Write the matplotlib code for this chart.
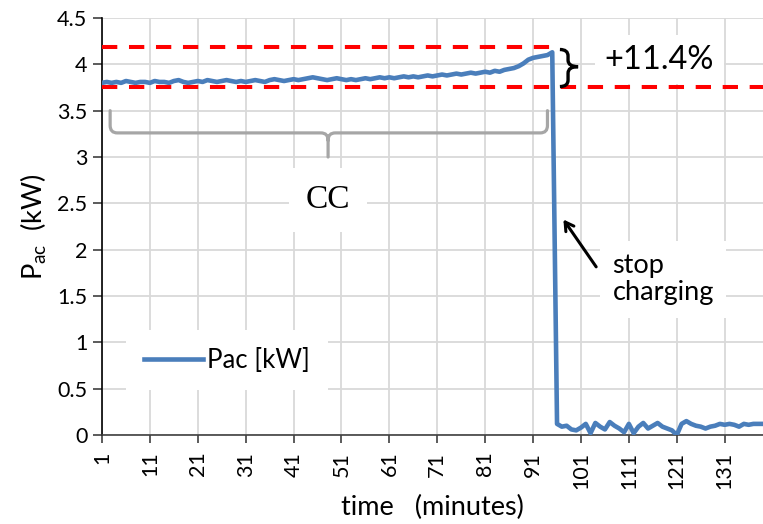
import numpy as np
import matplotlib
matplotlib.use('Agg')
import matplotlib.pyplot as plt
from matplotlib.path import Path
from matplotlib.patches import PathPatch

plt.rcParams['font.family'] = ['Lato', 'DejaVu Sans']
plt.rcParams['mathtext.default'] = 'regular'

# AC power, one sample per minute
minutes = np.arange(1, 140)
pac_charging = [
    3.80, 3.81, 3.80, 3.81, 3.80, 3.82, 3.81, 3.80, 3.81, 3.81,
    3.80, 3.82, 3.81, 3.81, 3.80, 3.82, 3.83, 3.81, 3.80, 3.81,
    3.82, 3.81, 3.83, 3.82, 3.81, 3.82, 3.83, 3.82, 3.81, 3.82,
    3.81, 3.82, 3.83, 3.82, 3.81, 3.83, 3.84, 3.83, 3.82, 3.83,
    3.84, 3.83, 3.84, 3.85, 3.86, 3.85, 3.84, 3.83, 3.84, 3.85,
    3.84, 3.83, 3.84, 3.83, 3.84, 3.85, 3.84, 3.85, 3.86, 3.85,
    3.86, 3.85, 3.86, 3.87, 3.86, 3.87, 3.86, 3.87, 3.88, 3.87,
    3.88, 3.89, 3.88, 3.89, 3.90, 3.89, 3.90, 3.91, 3.90, 3.91,
    3.92, 3.91, 3.93, 3.92, 3.94, 3.95, 3.96, 3.98, 4.01, 4.05,
    4.07, 4.08, 4.09, 4.10, 4.13,
]
pac_idle = [
    0.12, 0.09, 0.10, 0.06, 0.05, 0.08, 0.12, 0.02, 0.13, 0.09,
    0.06, 0.14, 0.10, 0.07, 0.03, 0.12, 0.02, 0.09, 0.13, 0.07,
    0.10, 0.13, 0.09, 0.07, 0.05, 0.00, 0.12, 0.15, 0.12, 0.10,
    0.09, 0.07, 0.09, 0.10, 0.12, 0.11, 0.12, 0.11, 0.09, 0.12,
    0.11, 0.12, 0.12, 0.12,
]
pac = np.array(pac_charging + pac_idle)

p_start = 3.76      # power at start of CC phase
p_end = 4.19        # power just before charging stops
t_stop = 95.1
increase = (p_end / p_start - 1) * 100

fig = plt.figure(figsize=(7.63, 5.24), dpi=100)
ax = fig.add_axes([102/763, 1 - 435/524, 661/763, 417/524])

ax.plot(minutes, pac, color='#4a7ebb', lw=3.3, label='Pac [kW]', zorder=4)

ax.plot([1, t_stop], [p_end, p_end], color='red', lw=2.9, dashes=(3.8, 2.9), zorder=3)
ax.plot([1, 139], [p_start, p_start], color='red', lw=2.9, dashes=(3.8, 2.9), zorder=3)

ax.set_xlim(1, 139)
ax.set_ylim(0, 4.5)
ax.set_xticks(np.arange(1, 140, 10))
ax.set_yticks(np.arange(0, 4.51, 0.5))
ax.set_yticklabels(['0', '0.5', '1', '1.5', '2', '2.5', '3', '3.5', '4', '4.5'])
ax.tick_params(axis='x', labelrotation=90, labelsize=15.5, length=6, width=1.2, color='#404040', pad=6)
ax.tick_params(axis='y', labelsize=15.5, length=6.5, width=1.2, color='#404040', pad=4)
ax.grid(True, color='#d9d9d9', lw=1.3)
ax.set_axisbelow(True)
for s in ['top', 'right']:
    ax.spines[s].set_visible(False)
ax.spines['left'].set_color('black')
ax.spines['left'].set_linewidth(1.2)
ax.spines['bottom'].set_color('#404040')
ax.spines['bottom'].set_linewidth(1.2)

ax.set_xlabel('time   (minutes)', fontsize=19.5, labelpad=4)
ax.set_ylabel('$P_{ac}$  (kW)', fontsize=19.5, labelpad=6)

# gray brace under the CC phase
xl, xm, xr = 2.7, 48.2, 94.0
yt, yh, ytip = 3.5, 3.26, 3.0
rx, ry = 1.5, 0.08
verts = [(xl, yt), (xl, yh + ry), (xl, yh), (xl + rx, yh), (xm - rx, yh), (xm, yh), (xm, yh - ry), (xm, ytip),
         (xm, yh - ry), (xm, yh), (xm + rx, yh), (xr - rx, yh), (xr, yh), (xr, yh + ry), (xr, yt)]
codes = [Path.MOVETO, Path.LINETO, Path.CURVE3, Path.CURVE3, Path.LINETO, Path.CURVE3, Path.CURVE3, Path.LINETO,
         Path.MOVETO, Path.CURVE3, Path.CURVE3, Path.LINETO, Path.CURVE3, Path.CURVE3, Path.LINETO]
ax.add_patch(PathPatch(Path(verts, codes), fc='none', ec='#a6a6a6', lw=2.3, capstyle='round', zorder=3))

# black brace between the two dashed levels
bl, bm, br = 96.6, 98.3, 100.4
bt, bmid, bb = p_end - 0.03, (p_start + p_end) / 2, p_start
by = 0.07
verts = [(bl, bt), (bm, bt), (bm, bt - by), (bm, bmid + by), (bm, bmid), (br, bmid),
         (bm, bmid), (bm, bmid - by), (bm, bb + by), (bm, bb), (bl, bb)]
codes = [Path.MOVETO, Path.CURVE3, Path.CURVE3, Path.LINETO, Path.CURVE3, Path.CURVE3,
         Path.CURVE3, Path.CURVE3, Path.LINETO, Path.CURVE3, Path.CURVE3]
ax.add_patch(PathPatch(Path(verts, codes), fc='none', ec='black', lw=2.4, zorder=5))

box = dict(boxstyle='square,pad=0.5', fc='white', ec='none')
ax.text(48.2, 2.54, 'CC', fontsize=24, family='Liberation Serif', ha='center', va='center', bbox=box, zorder=3)
ax.text(117.3, 4.05, '+%.1f%%' % increase, fontsize=23.5, ha='center', va='center',
        bbox=dict(boxstyle='square,pad=0.3', fc='white', ec='none'), zorder=3)
ax.text(107.6, 1.68, 'stop\ncharging', fontsize=19.5, ha='left', va='center', linespacing=1.1,
        bbox=dict(boxstyle='square,pad=0.45', fc='white', ec='none'), zorder=3)
ax.annotate('', xy=(97.0, 2.35), xytext=(104.5, 1.79),
            arrowprops=dict(arrowstyle='->,head_length=0.6,head_width=0.35', color='black', lw=2.2), zorder=5)

leg = ax.legend(loc='center', bbox_to_anchor=(227/763, 1 - 360/524), bbox_transform=fig.transFigure,
                fontsize=18.5, frameon=True, fancybox=False, edgecolor='none', framealpha=1,
                handlelength=2.3, handletextpad=0.15, borderpad=0.7)

fig.savefig('out.png', dpi=100)
